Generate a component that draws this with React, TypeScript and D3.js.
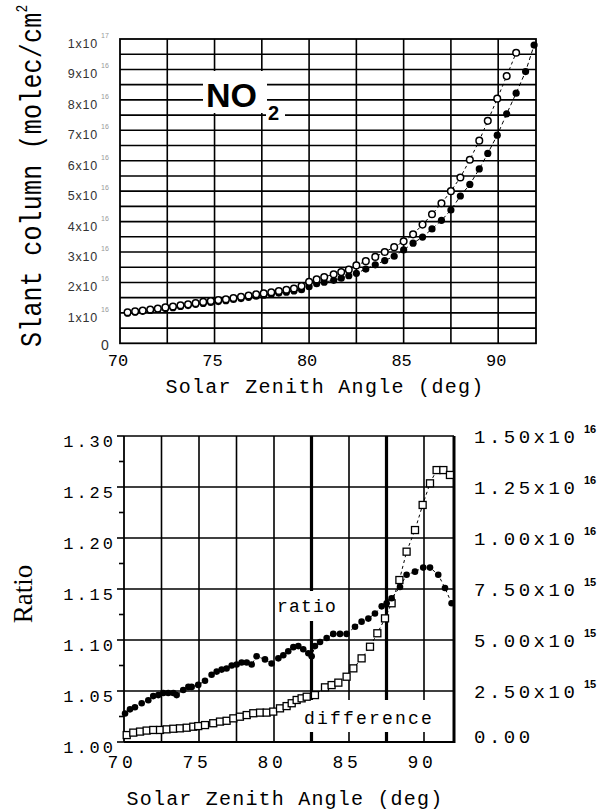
import React from "react";
import * as d3 from "d3";

// top panel: slant columns (units of 1e16 molec/cm2)
const openSza = [70.4, 70.8, 71.2, 71.6, 72.0, 72.4, 72.8, 73.2, 73.6, 74.0, 74.4, 74.8, 75.2, 75.6, 76.0, 76.4, 76.8, 77.2, 77.6, 78.0, 78.4, 78.8, 79.2, 79.6, 80.0, 80.4, 80.8, 81.3, 81.7, 82.1, 82.5, 83.0, 83.5, 84.0, 84.5, 85.0, 85.5, 86.0, 86.5, 87.0, 87.5, 88.0, 88.5, 89.0, 89.45, 89.95, 90.45, 90.95];
const openVal = [1.02, 1.05, 1.08, 1.11, 1.14, 1.18, 1.21, 1.25, 1.28, 1.32, 1.36, 1.39, 1.42, 1.45, 1.49, 1.53, 1.57, 1.61, 1.64, 1.68, 1.72, 1.76, 1.8, 1.88, 2.02, 2.1, 2.18, 2.27, 2.34, 2.42, 2.56, 2.7, 2.84, 3.0, 3.16, 3.35, 3.58, 3.9, 4.24, 4.6, 5.0, 5.45, 6.03, 6.66, 7.31, 8.04, 8.78, 9.55];
const filledSza = [...openSza, 91.45, 91.9];
const filledVal = [0.99, 1.02, 1.05, 1.08, 1.11, 1.14, 1.17, 1.21, 1.24, 1.28, 1.31, 1.34, 1.37, 1.4, 1.44, 1.47, 1.51, 1.55, 1.58, 1.61, 1.65, 1.68, 1.72, 1.76, 1.86, 1.96, 2.01, 2.07, 2.14, 2.22, 2.3, 2.44, 2.58, 2.72, 2.86, 3.07, 3.29, 3.49, 3.76, 4.04, 4.38, 4.84, 5.22, 5.73, 6.24, 6.84, 7.54, 8.22, 8.93, 9.8];

const topXTicks = [70, 75, 80, 85, 90];
const topYTicks = [1, 2, 3, 4, 5, 6, 7, 8, 9, 10];
const topYLabels = ["1x10", "2x10", "3x10", "4x10", "5x10", "6x10", "7x10", "8x10", "9x10", "1x10"];
const topYExp = ["16", "16", "16", "16", "16", "16", "16", "16", "16", "17"];

// bottom panel
const ratioSza = [70.07, 70.4, 70.73, 71.18, 71.62, 71.95, 72.29, 72.62, 72.95, 73.29, 73.51, 73.95, 74.29, 74.51, 74.95, 75.4, 75.84, 76.18, 76.51, 76.84, 77.18, 77.51, 77.84, 78.18, 78.51, 78.84, 79.4, 79.84, 80.29, 80.62, 80.95, 81.29, 81.62, 81.95, 82.29, 82.51, 82.73, 83.07, 83.51, 83.95, 84.4, 84.84, 85.4, 85.84, 86.29, 86.73, 87.18, 87.51, 87.84, 88.4, 88.84, 89.4, 89.95, 90.4, 90.95, 91.4, 91.84];
const ratioVal = [1.028, 1.032, 1.034, 1.038, 1.041, 1.045, 1.046, 1.048, 1.048, 1.048, 1.046, 1.051, 1.054, 1.054, 1.056, 1.06, 1.066, 1.069, 1.071, 1.072, 1.075, 1.076, 1.078, 1.078, 1.076, 1.084, 1.081, 1.077, 1.082, 1.085, 1.089, 1.093, 1.094, 1.091, 1.087, 1.084, 1.094, 1.098, 1.102, 1.106, 1.106, 1.106, 1.113, 1.118, 1.121, 1.126, 1.133, 1.136, 1.141, 1.152, 1.164, 1.167, 1.171, 1.171, 1.164, 1.151, 1.136];
// difference in units of 1e15
const diffSza = [70.18, 70.62, 71.07, 71.51, 71.95, 72.4, 72.84, 73.29, 73.73, 74.18, 74.62, 74.95, 75.4, 75.95, 76.4, 76.84, 77.29, 77.73, 78.18, 78.62, 79.07, 79.51, 79.95, 80.4, 80.84, 81.18, 81.51, 81.84, 82.18, 82.73, 83.4, 83.84, 84.29, 84.84, 85.29, 85.84, 86.4, 86.89, 87.4, 87.84, 88.36, 88.84, 89.4, 89.91, 90.4, 90.84, 91.29, 91.73];
const diffVal = [0.34, 0.46, 0.51, 0.56, 0.59, 0.59, 0.62, 0.65, 0.67, 0.7, 0.75, 0.78, 0.83, 0.92, 1.0, 1.04, 1.16, 1.24, 1.32, 1.41, 1.44, 1.44, 1.49, 1.65, 1.76, 1.9, 2.06, 2.14, 2.22, 2.3, 2.68, 2.79, 2.91, 3.2, 3.61, 4.1, 4.67, 5.33, 6.06, 6.8, 7.94, 9.33, 10.39, 11.62, 12.68, 13.33, 13.33, 13.09];

const ratioTicks = [1.0, 1.05, 1.1, 1.15, 1.2, 1.25, 1.3];
const diffTicks = [0, 2.5, 5, 7.5, 10, 12.5, 15];
const diffLabels = ["0.00", "2.50x10", "5.00x10", "7.50x10", "1.00x10", "1.25x10", "1.50x10"];
const diffExp = ["", "15", "15", "15", "16", "16", "16"];
const botXTicks = [70, 75, 80, 85, 90];

const MONO = "'Liberation Mono', 'DejaVu Sans Mono', monospace";
const SANS = "'Liberation Sans', Arial, sans-serif";
const SERIF = "'Liberation Serif', 'Times New Roman', serif";

export default function App() {
  // ---- top panel scales
  const xT = d3.scaleLinear().domain([70, 92]).range([120, 536]);
  const yT = d3.scaleLinear().domain([0, 10]).range([343.3, 39]);
  const vGridT = d3.range(72.5, 91, 2.5);
  const hGridT = d3.range(0.5, 10, 0.5);

  const openLine = d3
    .line<number>()
    .x((d, i) => xT(openSza[i]))
    .y((d) => yT(d));
  const filledLine = d3
    .line<number>()
    .x((d, i) => xT(filledSza[i]))
    .y((d) => yT(d));

  // ---- bottom panel scales
  const xB = d3.scaleLinear().domain([70, 92]).range([124, 454]);
  const yR = d3.scaleLinear().domain([1.0, 1.3]).range([742, 436]);
  const yD = d3.scaleLinear().domain([0, 15]).range([742, 436]);
  const vGridB = d3.range(72.5, 91, 2.5);
  const minorR = d3.range(1.025, 1.3, 0.05);

  const ratioLine = d3
    .line<number>()
    .x((d, i) => xB(ratioSza[i]))
    .y((d) => yR(d));
  const diffLine = d3
    .line<number>()
    .x((d, i) => xB(diffSza[i]))
    .y((d) => yD(d));

  return (
    <svg
      width={605}
      height={811}
      style={{ position: "absolute", left: 0, top: 0, background: "#fff" }}
    >
      {/* ================= TOP PANEL ================= */}
      <g>
        {hGridT.map((v) => (
          <line key={"th" + v} x1={xT(70)} x2={xT(92)} y1={yT(v)} y2={yT(v)} stroke="#000" strokeWidth={1.6} />
        ))}
        {vGridT.map((v) => (
          <line key={"tv" + v} x1={xT(v)} x2={xT(v)} y1={yT(0)} y2={yT(10)} stroke="#000" strokeWidth={1.6} />
        ))}
        <rect x={xT(70)} y={yT(10)} width={xT(92) - xT(70)} height={yT(0) - yT(10)} fill="none" stroke="#000" strokeWidth={1.8} />

        {/* NO2 label */}
        <rect x={203} y={71} width={64} height={42} fill="#fff" />
        <rect x={266} y={101} width={19} height={22} fill="#fff" />
        <text x={206} y={107} fontFamily={SANS} fontWeight="bold" fontSize={34}>NO</text>
        <text x={268} y={120} fontFamily={SANS} fontWeight="bold" fontSize={20}>2</text>

        <path d={openLine(openVal) || ""} fill="none" stroke="#000" strokeWidth={1} strokeDasharray="3,3" />
        <path d={filledLine(filledVal) || ""} fill="none" stroke="#000" strokeWidth={1} strokeDasharray="4,3" />
        {filledVal.map((v, i) => (
          <circle key={"f" + i} cx={xT(filledSza[i])} cy={yT(v)} r={3.6} fill="#000" />
        ))}
        {openVal.map((v, i) => (
          <circle key={"o" + i} cx={xT(openSza[i])} cy={yT(v)} r={3.3} fill="#fff" stroke="#000" strokeWidth={1.5} />
        ))}

        {/* y tick labels */}
        {topYTicks.map((v, i) => (
          <g key={"tyl" + v}>
            <text x={98} y={yT(v) + 9} textAnchor="end" fontFamily={SANS} fontSize={12.5} letterSpacing={0.8} fill="#333">
              {topYLabels[i]}
            </text>
            <text x={101} y={yT(v) - 1} fontFamily={SANS} fontSize={7} fill="#999">
              {topYExp[i]}
            </text>
          </g>
        ))}
        <text x={105} y={350} textAnchor="middle" fontFamily={SANS} fontSize={14} fill="#333">0</text>

        {/* x tick labels */}
        {topXTicks.map((v) => (
          <text key={"txl" + v} x={xT(v) - 2} y={366} textAnchor="middle" fontFamily={MONO} fontSize={17}>
            {v}
          </text>
        ))}
        <text x={325} y={393} textAnchor="middle" fontFamily={MONO} fontSize={20} letterSpacing={1.3}>
          Solar Zenith Angle (deg)
        </text>

        {/* y title */}
        <g transform="translate(41,347) rotate(-90) scale(1,1.2)">
          <text x={0} y={0} fontFamily={MONO} fontSize={25} letterSpacing={0.2}>
            Slant column (molec/cm
            <tspan fontSize={13} dy={-12}>2</tspan>
          </text>
        </g>
      </g>

      {/* ================= BOTTOM PANEL ================= */}
      <g>
        {ratioTicks.slice(1, -1).map((v) => (
          <line key={"bh" + v} x1={xB(70)} x2={xB(92)} y1={yR(v)} y2={yR(v)} stroke="#000" strokeWidth={1.6} />
        ))}
        {vGridB.map((v) => (
          <line
            key={"bv" + v}
            x1={xB(v)}
            x2={xB(v)}
            y1={yR(1.0)}
            y2={yR(1.3)}
            stroke="#000"
            strokeWidth={v === 82.5 || v === 87.5 ? 3.2 : 1.6}
          />
        ))}
        {/* frame */}
        <line x1={xB(70)} x2={xB(92)} y1={yR(1.3)} y2={yR(1.3)} stroke="#000" strokeWidth={1.6} />
        <line x1={xB(70)} x2={xB(92)} y1={yR(1.0)} y2={yR(1.0)} stroke="#000" strokeWidth={1.8} />
        <line x1={xB(70)} x2={xB(70)} y1={yR(1.0)} y2={yR(1.3)} stroke="#000" strokeWidth={1.8} />
        <line x1={xB(92)} x2={xB(92)} y1={yR(1.0) + 1} y2={yR(1.3)} stroke="#000" strokeWidth={3} />
        {/* left ticks */}
        {ratioTicks.map((v) => (
          <line key={"lt" + v} x1={xB(70) - 7} x2={xB(70)} y1={yR(v)} y2={yR(v)} stroke="#000" strokeWidth={1.6} />
        ))}
        {minorR.map((v) => (
          <line key={"mt" + v} x1={xB(70) - 5} x2={xB(70)} y1={yR(v)} y2={yR(v)} stroke="#000" strokeWidth={1.6} />
        ))}

        {/* in-plot labels with white boxes */}
        <rect x={275} y={591} width={66} height={30} fill="#fff" />
        <text x={277} y={612} fontFamily={MONO} fontSize={18} letterSpacing={1.2}>ratio</text>
        <rect x={300} y={700} width={141} height={32} fill="#fff" />
        <text x={304} y={724} fontFamily={MONO} fontSize={18} letterSpacing={2.2}>difference</text>

        <path d={diffLine(diffVal) || ""} fill="none" stroke="#000" strokeWidth={1} strokeDasharray="3,3" />
        <path d={ratioLine(ratioVal) || ""} fill="none" stroke="#000" strokeWidth={1} strokeDasharray="3,3" />
        {diffVal.map((v, i) => (
          <rect
            key={"d" + i}
            x={xB(diffSza[i]) - 3.5}
            y={yD(v) - 3.5}
            width={7}
            height={7}
            fill="#fff"
            stroke="#000"
            strokeWidth={1.3}
          />
        ))}
        {ratioVal.map((v, i) => (
          <circle key={"r" + i} cx={xB(ratioSza[i])} cy={yR(v)} r={3.3} fill="#000" />
        ))}

        {/* left tick labels */}
        {ratioTicks.map((v) => (
          <text key={"ll" + v} x={116} y={yR(v) + 11} textAnchor="end" fontFamily={MONO} fontSize={17} letterSpacing={3}>
            {v.toFixed(2)}
          </text>
        ))}
        {/* right tick labels */}
        {diffTicks.map((v, i) => (
          <g key={"rl" + v}>
            <text x={474} y={yD(v) + (v === 0 ? 1 : 7)} fontFamily={MONO} fontSize={19} letterSpacing={3.5}>
              {diffLabels[i]}
            </text>
            <text x={584} y={yD(v) - 3} fontFamily={SANS} fontWeight="bold" fontSize={11}>
              {diffExp[i]}
            </text>
          </g>
        ))}
        {/* x tick labels */}
        {botXTicks.map((v) => (
          <text key={"bxl" + v} x={xB(v) - 2} y={768} textAnchor="middle" fontFamily={MONO} fontSize={18} letterSpacing={3.7}>
            {v}
          </text>
        ))}
        <text x={285} y={805} textAnchor="middle" fontFamily={MONO} fontSize={20} letterSpacing={1.2}>
          Solar Zenith Angle (deg)
        </text>
        <g transform="translate(32,594) rotate(-90)">
          <text x={0} y={0} textAnchor="middle" fontFamily={SERIF} fontSize={27}>Ratio</text>
        </g>
      </g>
    </svg>
  );
}
